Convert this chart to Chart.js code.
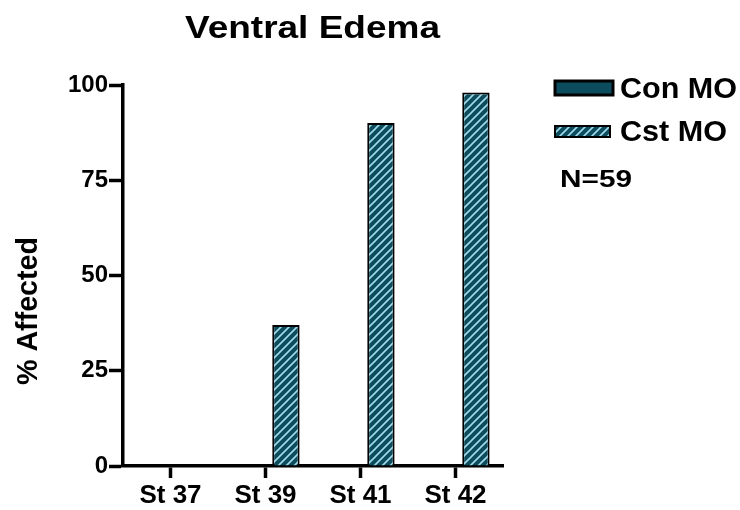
<!DOCTYPE html>
<html>
<head>
<meta charset="utf-8">
<script src="https://cdn.jsdelivr.net/npm/chart.js@4/dist/chart.umd.min.js"></script>
<style>
  html, body { margin: 0; padding: 0; background: #fff; }
  #wrap { width: 740px; height: 510px; }
</style>
</head>
<body>
<div id="wrap"><canvas id="chart" width="740" height="510"></canvas></div>
<script>
'use strict';

// data
var stages = ['St 37', 'St 39', 'St 41', 'St 42'];
var conMO = [0, 0, 0, 0];
var cstMO = [0, 37, 90, 98];
var yTicks = [0, 25, 50, 75, 100];
var seriesNames = ['Con MO', 'Cst MO'];
var chartTitle = 'Ventral Edema';
var yTitle = '% Affected';
var note = 'N=59';

var TEAL = '#0b4c5d';
var STRIPE = '#a3dbea';
var FONT = '"Liberation Sans", Arial, sans-serif';

function makeHatch() {
  var s = 8;
  var c = document.createElement('canvas');
  c.width = s; c.height = s;
  var g = c.getContext('2d');
  g.fillStyle = TEAL;
  g.fillRect(0, 0, s, s);
  g.strokeStyle = STRIPE;
  g.lineWidth = 1.6;
  g.beginPath();
  g.moveTo(-1, s + 1); g.lineTo(s + 1, -1);
  g.moveTo(-1, 1); g.lineTo(1, -1);
  g.moveTo(s - 1, s + 1); g.lineTo(s + 1, s - 1);
  g.stroke();
  return document.getElementById('chart').getContext('2d').createPattern(c, 'repeat');
}
var hatch = makeHatch();

// stretched text helper (the source figure is a little wider than tall)
function stretchText(ctx, txt, size, x, y, w) {
  ctx.save();
  ctx.font = 'bold ' + size + 'px ' + FONT;
  var m = ctx.measureText(txt).width;
  ctx.translate(x, y);
  ctx.scale(w / m, 1);
  ctx.fillStyle = '#000';
  ctx.textAlign = 'left';
  ctx.textBaseline = 'alphabetic';
  ctx.fillText(txt, 0, 0);
  ctx.restore();
}

var decorations = {
  id: 'decorations',
  afterDraw: function(chart) {
    var ctx = chart.ctx;
    stretchText(ctx, chartTitle, 32, 185, 38, 255);

    // y title, rotated
    ctx.save();
    ctx.translate(37, 385);
    ctx.rotate(-Math.PI / 2);
    stretchText(ctx, yTitle, 29, 0, 0, 148);
    ctx.restore();

    // legend
    var ds = chart.data.datasets;
    ctx.save();
    ctx.fillStyle = ds[0].backgroundColor;
    ctx.fillRect(555, 81, 58, 14);
    ctx.lineWidth = 3;
    ctx.strokeStyle = '#000';
    ctx.strokeRect(555, 81, 58, 14);
    ctx.fillStyle = ds[1].backgroundColor;
    ctx.fillRect(555, 126, 55, 11);
    ctx.lineWidth = 2;
    ctx.strokeRect(555, 126, 55, 11);
    ctx.restore();
    stretchText(ctx, ds[0].label, 29, 620, 98, 117);
    stretchText(ctx, ds[1].label, 29, 620, 141, 107);
    stretchText(ctx, note, 24, 560, 187, 72);
  }
};

new Chart(document.getElementById('chart'), {
  type: 'bar',
  data: {
    labels: stages,
    datasets: [
      { label: seriesNames[0], data: conMO, backgroundColor: TEAL, borderColor: '#000', borderWidth: 2 },
      { label: seriesNames[1], data: cstMO, backgroundColor: hatch, borderColor: '#000', borderWidth: 2 }
    ]
  },
  options: {
    responsive: false,
    animation: false,
    events: [],
    layout: { padding: { top: 85, right: 237, left: 0, bottom: 0 } },
    datasets: { bar: { categoryPercentage: 0.86, barPercentage: 0.67 } },
    plugins: {
      legend: { display: false },
      title: { display: false },
      tooltip: { enabled: false }
    },
    scales: {
      x: {
        afterFit: function(s) { s.height = 44; },
        grid: { offset: false, drawOnChartArea: false, drawTicks: true, tickLength: 12, tickWidth: 3.5, tickColor: '#000' },
        border: { color: '#000', width: 3.5 },
        ticks: { color: '#000', padding: 2, font: { family: FONT, size: 26, weight: 'bold' } }
      },
      y: {
        min: 0,
        max: 100,
        afterFit: function(s) { s.width = 123; },
        afterBuildTicks: function(s) { s.ticks = yTicks.map(function(v) { return { value: v }; }); },
        grid: { drawOnChartArea: false, drawTicks: true, tickLength: 14, tickWidth: 3.5, tickColor: '#000' },
        border: { color: '#000', width: 3.5 },
        ticks: { color: '#000', padding: 1, font: { family: FONT, size: 24, weight: 'bold' } }
      }
    }
  },
  plugins: [decorations]
});
</script>
</body>
</html>
